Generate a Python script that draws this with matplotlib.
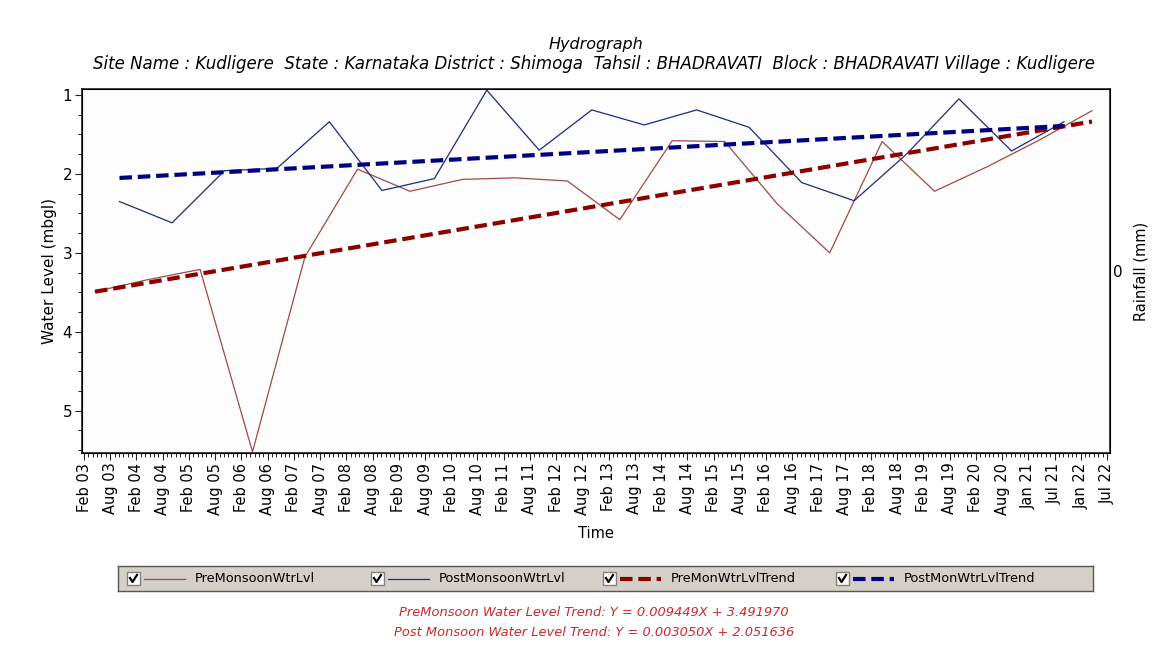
import numpy as np
import pandas as pd
import matplotlib
matplotlib.use('Agg')
import matplotlib.pyplot as plt
import matplotlib.dates as mdates
from matplotlib.ticker import MultipleLocator, FixedLocator
from matplotlib.patches import Rectangle

plt.rcParams['font.family'] = ['DejaVu Sans']

# water level readings (m below ground level)
pre_years = [2003, 2004, 2005, 2006, 2007, 2008, 2009, 2010, 2011, 2012,
             2013, 2014, 2015, 2016, 2017, 2018, 2019, 2020, 2021, 2022]
pre_level = [3.49, 3.34, 3.21, 5.52, 3.05, 1.94, 2.22, 2.07, 2.05, 2.09,
             2.58, 1.58, 1.59, 2.38, 3.00, 1.59, 2.22, 1.91, 1.57, 1.20]

post_years = [2003, 2004, 2005, 2006, 2007, 2008, 2009, 2010, 2011, 2012,
              2013, 2014, 2015, 2016, 2017, 2018, 2019, 2020, 2021]
post_level = [2.35, 2.62, 1.96, 1.93, 1.34, 2.21, 2.06, 0.94, 1.70, 1.19,
              1.38, 1.19, 1.41, 2.11, 2.34, 1.75, 1.05, 1.71, 1.34]

# trend equations shown under the chart (X in months from first reading)
pre_trend_slope, pre_trend_icpt = 0.009449, 3.491970
post_trend_slope, post_trend_icpt = 0.003050, 2.051636

xtick_labels = ['Feb 03', 'Aug 03', 'Feb 04', 'Aug 04', 'Feb 05', 'Aug 05', 'Feb 06', 'Aug 06',
                'Feb 07', 'Aug 07', 'Feb 08', 'Aug 08', 'Feb 09', 'Aug 09', 'Feb 10', 'Aug 10',
                'Feb 11', 'Aug 11', 'Feb 12', 'Aug 12', 'Feb 13', 'Aug 13', 'Feb 14', 'Aug 14',
                'Feb 15', 'Aug 15', 'Feb 16', 'Aug 16', 'Feb 17', 'Aug 17', 'Feb 18', 'Aug 18',
                'Feb 19', 'Aug 19', 'Feb 20', 'Aug 20', 'Jan 21', 'Jul 21', 'Jan 22', 'Jul 22']

pre_dates = pd.to_datetime([f'{y}-05-15' for y in pre_years])
post_dates = pd.to_datetime([f'{y}-11-01' for y in post_years])


def trend(dates, icpt, slope):
    ends = dates[[0, -1]]
    months = (ends - dates[0]).days / 30.4375
    return ends, icpt - slope * months


pre_tr_x, pre_tr_y = trend(pre_dates, pre_trend_icpt, pre_trend_slope)
post_tr_x, post_tr_y = trend(post_dates, post_trend_icpt, post_trend_slope)

W, H = 1172, 664
fig = plt.figure(figsize=(W / 100, H / 100), dpi=100, facecolor='white')
ax = fig.add_axes([82 / W, 1 - 453 / H, (1110 - 82) / W, (453 - 89) / H])
ax.set_facecolor('#fdfdfd')

c_pre, c_post = '#a04a44', '#1c2a80'
c_pre_tr, c_post_tr = '#8b0000', '#000080'

ax.plot(pre_dates, pre_level, color=c_pre, lw=0.9)
ax.plot(post_dates, post_level, color=c_post, lw=0.9)
ax.plot(pre_tr_x, pre_tr_y, color=c_pre_tr, lw=3.0, dashes=(3, 1.4))
ax.plot(post_tr_x, post_tr_y, color=c_post_tr, lw=3.0, dashes=(3, 1.4))

# axis ticks every ~half year
first_tick = mdates.date2num(pd.Timestamp('2003-02-27'))
step = 182.6
ticks = first_tick + step * np.arange(len(xtick_labels))
ax.set_xticks(ticks)
ax.set_xticklabels(xtick_labels, rotation=90)
ax.xaxis.set_minor_locator(FixedLocator(first_tick + step / 6 * np.arange(6 * len(xtick_labels))))
ax.set_xlim(first_tick - 14, ticks[-1] + 21)

ax.set_ylim(5.535, 0.925)
ax.yaxis.set_major_locator(FixedLocator([1, 2, 3, 4, 5]))
ax.yaxis.set_minor_locator(MultipleLocator(0.25))
ax.tick_params(axis='both', which='major', direction='out', length=5, width=0.8, color='#222222')
ax.tick_params(axis='y', which='major', labelsize=11, pad=2)
ax.tick_params(axis='x', which='major', labelsize=10.5, pad=2)
ax.tick_params(axis='both', which='minor', direction='out', length=3, width=0.7, color='#222222')
for s in ax.spines.values():
    s.set_linewidth(1.2)
    s.set_color('#222222')

ax.set_xlabel('Time', fontsize=10.5, labelpad=8)
ax.set_ylabel('Water Level (mbgl)', fontsize=11, labelpad=4)

ax2 = ax.twinx()
ax2.set_ylim(-1, 1)
ax2.set_yticks([0])
ax2.tick_params(axis='y', length=0, pad=2, labelsize=11)
ax2.set_ylabel('Rainfall (mm)', fontsize=10.5, labelpad=8)

fig.text(596 / W, 1 - 45 / H, 'Hydrograph', ha='center', va='center', style='italic', fontsize=11.5)
fig.text(594 / W, 1 - 64 / H,
         'Site Name : Kudligere  State : Karnataka District : Shimoga  Tahsil : BHADRAVATI  '
         'Block : BHADRAVATI Village : Kudligere',
         ha='center', va='center', style='italic', fontsize=12)

# legend strip with check boxes
lg = fig.add_axes([118 / W, 1 - 591 / H, (1093 - 118) / W, 25 / H])
lg.set_xlim(118, 1093)
lg.set_ylim(591, 566)
lg.set_facecolor('#d4d0c8')
lg.set_xticks([])
lg.set_yticks([])
for s in lg.spines.values():
    s.set_color('#555555')
    s.set_linewidth(1)
entries = [('PreMonsoonWtrLvl', c_pre, 0.9, None),
           ('PostMonsoonWtrLvl', c_post, 0.9, None),
           ('PreMonWtrLvlTrend', c_pre_tr, 3.0, (3, 1.4)),
           ('PostMonWtrLvlTrend', c_post_tr, 3.0, (3, 1.4))]
box_x = [127, 371, 603, 836]
for (name, col, lw, dsh), bx in zip(entries, box_x):
    lg.add_patch(Rectangle((bx, 572), 13, 13, facecolor='white', edgecolor='#808080', lw=1))
    lg.plot([bx + 3, bx + 5.5, bx + 10], [578, 582, 575], color='black', lw=1.6)
    kw = {'dashes': dsh} if dsh else {}
    lg.plot([bx + 17, bx + 58], [578.5, 578.5], color=col, lw=lw, **kw)
    lg.text(bx + 68, 578.5, name, va='center', ha='left', fontsize=9.3)

fig.text(594 / W, 1 - 613 / H, 'PreMonsoon Water Level Trend: Y = 0.009449X + 3.491970',
         ha='center', va='center', style='italic', fontsize=9.4, color='#cc2a2a')
fig.text(594 / W, 1 - 632 / H, 'Post Monsoon Water Level Trend: Y = 0.003050X + 2.051636',
         ha='center', va='center', style='italic', fontsize=9.4, color='#cc2a2a')

fig.savefig('out.png', dpi=100, facecolor='white')
